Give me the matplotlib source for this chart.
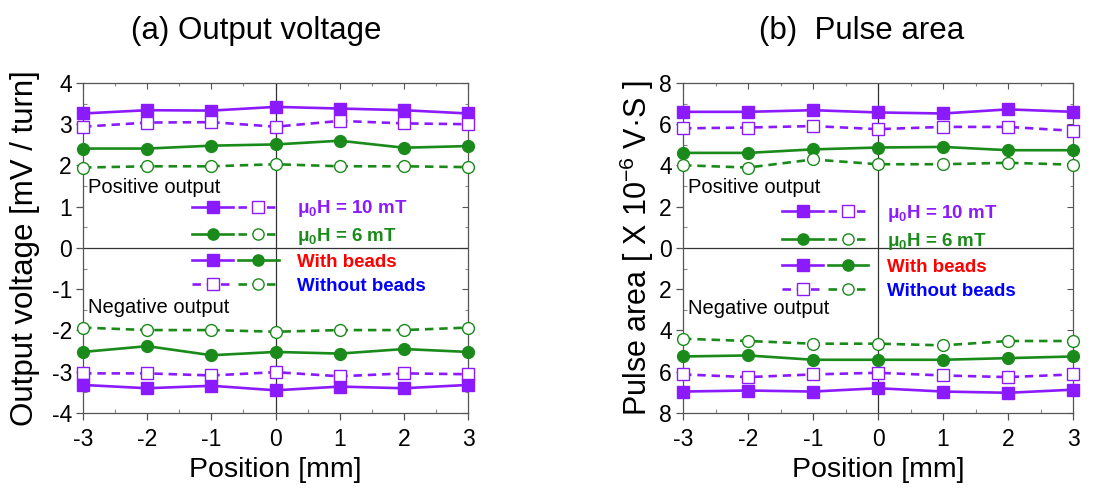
import matplotlib
matplotlib.use("Agg")
import matplotlib.pyplot as plt
from matplotlib.lines import Line2D
from matplotlib.legend_handler import HandlerTuple
from matplotlib.ticker import MultipleLocator, FuncFormatter

plt.rcParams['font.family'] = ['Liberation Sans', 'DejaVu Sans']
plt.rcParams['axes.unicode_minus'] = False
plt.rcParams['mathtext.fontset'] = 'custom'
plt.rcParams['mathtext.rm'] = 'Liberation Sans'
plt.rcParams['mathtext.bf'] = 'Liberation Sans:bold'
plt.rcParams['mathtext.default'] = 'regular'

# Position along the sensor [mm]
position = [-3, -2, -1, 0, 1, 2, 3]

# (a) Output voltage [mV / turn]
v_pos_10_beads = [3.26, 3.34, 3.33, 3.42, 3.38, 3.34, 3.26]
v_pos_10_none = [2.94, 3.04, 3.05, 2.94, 3.08, 3.02, 3.00]
v_pos_6_beads = [2.41, 2.41, 2.48, 2.51, 2.60, 2.43, 2.47]
v_pos_6_none = [1.95, 1.98, 1.98, 2.03, 1.98, 1.98, 1.96]
v_neg_6_none = [-1.93, -1.99, -1.99, -2.03, -1.99, -1.99, -1.93]
v_neg_6_beads = [-2.52, -2.38, -2.60, -2.52, -2.56, -2.45, -2.52]
v_neg_10_none = [-3.04, -3.04, -3.09, -3.01, -3.11, -3.04, -3.06]
v_neg_10_beads = [-3.32, -3.40, -3.34, -3.45, -3.36, -3.40, -3.32]

# (b) Pulse area [x 1e-6 V*s]; negative output drawn below zero
a_pos_10_beads = [6.60, 6.60, 6.68, 6.57, 6.52, 6.72, 6.60]
a_pos_10_none = [5.80, 5.84, 5.91, 5.76, 5.87, 5.87, 5.68]
a_pos_6_beads = [4.61, 4.61, 4.78, 4.87, 4.90, 4.74, 4.74]
a_pos_6_none = [4.01, 3.90, 4.29, 4.06, 4.06, 4.13, 4.04]
a_neg_6_none = [-4.40, -4.51, -4.64, -4.64, -4.72, -4.51, -4.51]
a_neg_6_beads = [-5.26, -5.21, -5.42, -5.42, -5.42, -5.34, -5.26]
a_neg_10_none = [-6.13, -6.26, -6.13, -6.05, -6.18, -6.26, -6.13]
a_neg_10_beads = [-6.96, -6.91, -6.96, -6.80, -6.96, -7.02, -6.87]

PURPLE = '#8c1aff'
GREEN = '#1a8a1a'
LW = 1.9
MS = 8.5
DASH = (0, (3.2, 2.2))

styles = {
    ('10', 'beads'): dict(color=PURPLE, ls='-', marker='s', mfc=PURPLE, mec=PURPLE),
    ('10', 'none'): dict(color=PURPLE, ls=DASH, marker='s', mfc='white', mec=PURPLE),
    ('6', 'beads'): dict(color=GREEN, ls='-', marker='o', mfc=GREEN, mec=GREEN),
    ('6', 'none'): dict(color=GREEN, ls=DASH, marker='o', mfc='white', mec=GREEN),
}


def draw(ax, series):
    for key, vals in series:
        st = styles[key]
        ax.plot(position, vals, lw=LW, ms=MS, mew=1.0, clip_on=False, zorder=3,
                **st)


def style_axes(ax, ylim, ymajor, yminor):
    ax.set_xlim(-3, 3)
    ax.set_ylim(*ylim)
    ax.axvline(0, color='#333333', lw=0.9, zorder=1)
    ax.axhline(0, color='#333333', lw=0.9, zorder=1)
    ax.xaxis.set_major_locator(MultipleLocator(1))
    ax.xaxis.set_minor_locator(MultipleLocator(0.5))
    ax.yaxis.set_major_locator(MultipleLocator(ymajor))
    ax.yaxis.set_minor_locator(MultipleLocator(yminor))
    for s in ax.spines.values():
        s.set_color('#555555')
        s.set_linewidth(0.9)
    ax.tick_params(which='major', direction='out', length=5, width=0.9,
                   color='#555555', labelsize=16.5)
    ax.tick_params(axis='x', which='major', pad=6)
    ax.tick_params(axis='y', which='major', pad=3)
    ax.tick_params(which='minor', direction='in', length=3, width=0.8,
                   color='#888888')
    top = ax.secondary_xaxis('top')
    top.xaxis.set_major_locator(MultipleLocator(1))
    top.xaxis.set_minor_locator(MultipleLocator(0.5))
    top.tick_params(which='major', direction='in', length=4, width=0.8,
                    color='#555555', labeltop=False)
    top.tick_params(which='minor', direction='in', length=2.5, width=0.8,
                    color='#888888')
    top.spines['top'].set_visible(False)
    right = ax.secondary_yaxis('right')
    right.yaxis.set_major_locator(MultipleLocator(ymajor))
    right.yaxis.set_minor_locator(MultipleLocator(yminor))
    right.tick_params(which='major', direction='in', length=4, width=0.8,
                      color='#555555', labelright=False)
    right.tick_params(which='minor', direction='in', length=2.5, width=0.8,
                      color='#888888')
    right.spines['right'].set_visible(False)
    ax.set_xlabel('Position [mm]', fontsize=20.5, labelpad=4)


def add_legend(ax, x0, yc):
    def h(key):
        st = styles[key]
        return Line2D([], [], lw=LW, ms=MS * 0.95, mew=1.0, **st)
    handles = [
        (h(('10', 'beads')), h(('10', 'none'))),
        (h(('6', 'beads')), h(('6', 'none'))),
        (h(('10', 'beads')), h(('6', 'beads'))),
        (h(('10', 'none')), h(('6', 'none'))),
    ]
    labels = [r'μ$_\mathbf{0}$H = 10 mT', r'μ$_\mathbf{0}$H = 6 mT',
              'With beads', 'Without beads']
    colors = [PURPLE, GREEN, 'red', 'blue']
    leg = ax.legend(handles, labels, loc='center left',
                    bbox_to_anchor=(x0, yc), frameon=False,
                    handler_map={tuple: HandlerTuple(ndivide=None, pad=0.25)},
                    handlelength=4.6, handletextpad=1.0, labelspacing=0.36,
                    borderpad=0, borderaxespad=0, numpoints=1,
                    prop={'size': 13.5, 'weight': 'bold'})
    for t, c in zip(leg.get_texts(), colors):
        t.set_color(c)
    leg.set_zorder(5)
    return leg


fig = plt.figure(figsize=(11.15, 4.88), dpi=100)
ax1 = fig.add_axes([0.0745, 0.1537, 0.3453, 0.6763])
ax2 = fig.add_axes([0.6126, 0.1537, 0.3498, 0.6763])

# (a) Output voltage
draw(ax1, [(('10', 'beads'), v_pos_10_beads), (('10', 'none'), v_pos_10_none),
           (('6', 'beads'), v_pos_6_beads), (('6', 'none'), v_pos_6_none),
           (('6', 'none'), v_neg_6_none), (('6', 'beads'), v_neg_6_beads),
           (('10', 'none'), v_neg_10_none), (('10', 'beads'), v_neg_10_beads)])
style_axes(ax1, (-4, 4), 1, 0.5)
ax1.set_ylabel('Output voltage [mV / turn]', fontsize=22.5, labelpad=8)
ax1.text(-2.92, 1.47, 'Positive output', fontsize=14.5, va='center', ha='left')
ax1.text(-2.92, -1.44, 'Negative output', fontsize=14.5, va='center', ha='left')
add_legend(ax1, 0.284, 0.505)

# (b) Pulse area
draw(ax2, [(('10', 'beads'), a_pos_10_beads), (('10', 'none'), a_pos_10_none),
           (('6', 'beads'), a_pos_6_beads), (('6', 'none'), a_pos_6_none),
           (('6', 'none'), a_neg_6_none), (('6', 'beads'), a_neg_6_beads),
           (('10', 'none'), a_neg_10_none), (('10', 'beads'), a_neg_10_beads)])
style_axes(ax2, (-8, 8), 2, 1)
ax2.yaxis.set_major_formatter(FuncFormatter(lambda v, p: f'{abs(v):g}'))
ax2.set_ylabel(r'Pulse area [ X 10$^{-6}$ V·S ]', fontsize=22, labelpad=2)
ax2.text(-2.92, 2.94, 'Positive output', fontsize=14.5, va='center', ha='left')
ax2.text(-2.92, -2.94, 'Negative output', fontsize=14.5, va='center', ha='left')
add_legend(ax2, 0.254, 0.49)

fig.text(0.2296, 0.937, '(a) Output voltage', fontsize=22.5, ha='center', va='center')
fig.text(0.773, 0.937, '(b)  Pulse area', fontsize=22.5, ha='center', va='center')

fig.savefig('out.png', dpi=100)
